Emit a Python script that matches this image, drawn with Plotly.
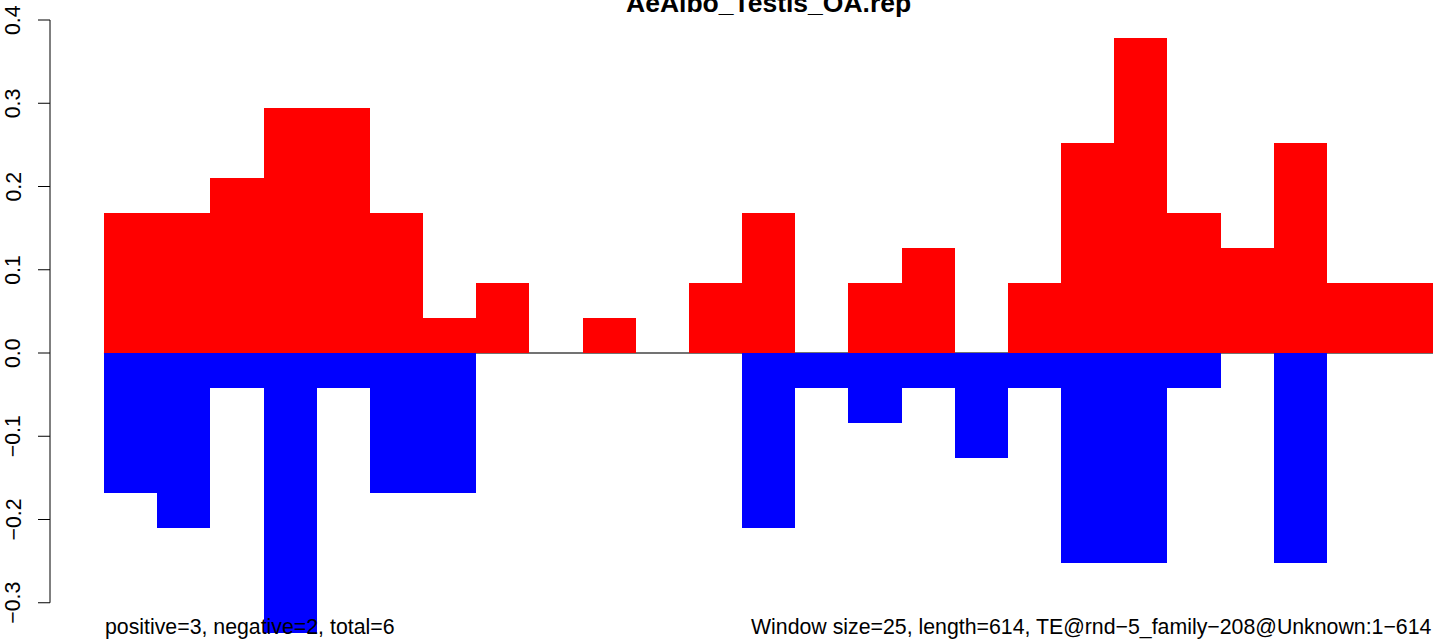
import plotly.graph_objects as go

# ---- data ----
windows = list(range(1, 26))
positive = [0.1684, 0.1684, 0.2105, 0.2947, 0.2947, 0.1684, 0.0421, 0.0842, 0.0, 0.0421,
            0.0, 0.0842, 0.1684, 0.0, 0.0842, 0.1263, 0.0, 0.0842, 0.2526, 0.3789,
            0.1684, 0.1263, 0.2526, 0.0842, 0.0842]
negative = [-0.1684, -0.2105, -0.0421, -0.3368, -0.0421, -0.1684, -0.1684, 0.0, 0.0, 0.0,
            0.0, 0.0, -0.2105, -0.0421, -0.0842, -0.0421, -0.1263, -0.0421, -0.2526, -0.2526,
            -0.0421, 0.0, -0.2526, 0.0, 0.0]
tick_values = [-0.3, -0.2, -0.1, 0.0, 0.1, 0.2, 0.3, 0.4]
tick_labels = ["\u22120.3", "\u22120.2", "\u22120.1", "0.0", "0.1", "0.2", "0.3", "0.4"]
title_text = "AeAlbo_Testis_OA.rep"
left_note = "positive=3, negative=2, total=6"
right_note = "Window size=25, length=614, TE@rnd\u22125_family\u2212208@Unknown:1\u2212614"

W, H = 1436, 639
FONT = "Liberation Sans, Arial, sans-serif"
FS = 21.3

fig = go.Figure()
fig.add_trace(go.Bar(x=windows, y=positive, width=1, marker=dict(color="#FF0000", line=dict(width=0)),
                     hoverinfo="skip"))
fig.add_trace(go.Bar(x=windows, y=negative, width=1, marker=dict(color="#0000FF", line=dict(width=0)),
                     hoverinfo="skip"))

shapes = []
# zero line behind bars
shapes.append(dict(type="line", xref="x", yref="y", x0=0.5, x1=25.5, y0=0, y1=0,
                   line=dict(color="#444444", width=1.3), layer="below"))
# y axis line and ticks (R style)
ax_x = 50 / W
shapes.append(dict(type="line", xref="paper", yref="y", x0=ax_x, x1=ax_x,
                   y0=tick_values[0], y1=tick_values[-1], line=dict(color="black", width=1)))
annotations = []
for v, lab in zip(tick_values, tick_labels):
    shapes.append(dict(type="line", xref="paper", yref="y", x0=38 / W, x1=ax_x, y0=v, y1=v,
                       line=dict(color="black", width=1)))
    annotations.append(dict(text=lab, xref="paper", yref="y", x=13 / W, y=v, xanchor="center",
                            yanchor="middle", textangle=-90, showarrow=False,
                            font=dict(family=FONT, size=FS, color="black")))

annotations.append(dict(text="<b>" + title_text + "</b>", xref="paper", yref="paper",
                        x=(103.8 + 1433) / 2 / W, y=1 - 3 / H, xanchor="center", yanchor="middle",
                        showarrow=False, font=dict(family=FONT, size=26.5, color="black")))
annotations.append(dict(text=left_note, xref="paper", yref="paper", x=103 / W, y=1 - 626.5 / H,
                        xanchor="left", yanchor="middle", showarrow=False,
                        font=dict(family=FONT, size=FS, color="black")))
annotations.append(dict(text=right_note, xref="paper", yref="paper", x=1434 / W, y=1 - 626.5 / H,
                        xanchor="right", yanchor="middle", showarrow=False,
                        font=dict(family=FONT, size=FS, color="black")))

y_top = 353 / 832.5
y_bot = -(H - 353) / 832.5

fig.update_layout(
    width=W, height=H,
    margin=dict(l=0, r=0, t=0, b=0, pad=0),
    paper_bgcolor="white", plot_bgcolor="white",
    barmode="relative", bargap=0, showlegend=False,
    xaxis=dict(domain=[103.8 / W, 1433 / W], range=[0.5, 25.5], visible=False, fixedrange=True),
    yaxis=dict(domain=[0, 1], range=[y_bot, y_top], visible=False, fixedrange=True),
    shapes=shapes, annotations=annotations,
)

fig.write_html("out.html", config={"displayModeBar": False},
               post_script="document.body.style.margin='0';document.body.style.overflow='hidden';")
